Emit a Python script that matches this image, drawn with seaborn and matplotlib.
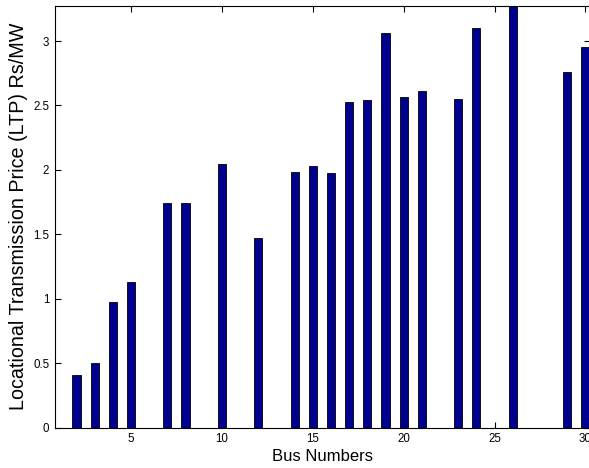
import numpy as np
import matplotlib
matplotlib.use("Agg")
import matplotlib.pyplot as plt
import pandas as pd
import seaborn as sns

# LTP per bus (zeros where no bar is drawn)
buses = list(range(1, 31))
ltp = [0.0, 0.405, 0.50, 0.973, 1.13, 0.0, 1.741, 1.741, 0.0, 2.043,
       0.0, 1.469, 0.0, 1.984, 2.033, 1.978, 2.524, 2.545, 3.062, 2.563,
       2.612, 0.0, 2.548, 3.098, 0.0, 3.45, 0.0, 0.0, 2.762, 2.956]
x_ticks = [5, 10, 15, 20, 25, 30]
y_ticks = [0, 0.5, 1, 1.5, 2, 2.5, 3]
y_tick_labels = ["0", "0.5", "1", "1.5", "2", "2.5", "3"]

df = pd.DataFrame({"bus": buses, "ltp": ltp})

sns.set_style("ticks")
plt.rcParams["font.family"] = ["Liberation Sans", "DejaVu Sans"]
plt.rcParams["text.color"] = "black"
plt.rcParams["axes.labelcolor"] = "black"
plt.rcParams["xtick.color"] = "black"
plt.rcParams["ytick.color"] = "black"

fig = plt.figure(figsize=(5.89, 4.68), dpi=100)
ax = fig.add_axes([54.7 / 589, 40.3 / 468, (590 - 54.7) / 589, (427.7 - 5.7) / 468])

sns.barplot(data=df, x="bus", y="ltp", native_scale=True, width=0.45,
            color="#00008F", saturation=1, edgecolor="black", linewidth=0.6,
            errorbar=None, ax=ax)

ax.set_xlim(0.8, 30.25)
ax.set_ylim(0, 3.274)
ax.set_xticks(x_ticks)
ax.set_xticklabels([str(t) for t in x_ticks])
ax.set_yticks(y_ticks)
ax.set_yticklabels(y_tick_labels)
ax.tick_params(direction="in", length=4, width=0.8, labelsize=8.3,
               top=True, right=True, pad=4)
for s in ax.spines.values():
    s.set_visible(True)
    s.set_linewidth(0.8)
    s.set_color("black")

ax.set_xlabel("Bus Numbers", fontsize=12, labelpad=3)
ax.set_ylabel("Locational Transmission Price (LTP) Rs/MW", fontsize=14.2, labelpad=3.5)

fig.savefig("out.png", dpi=100)
